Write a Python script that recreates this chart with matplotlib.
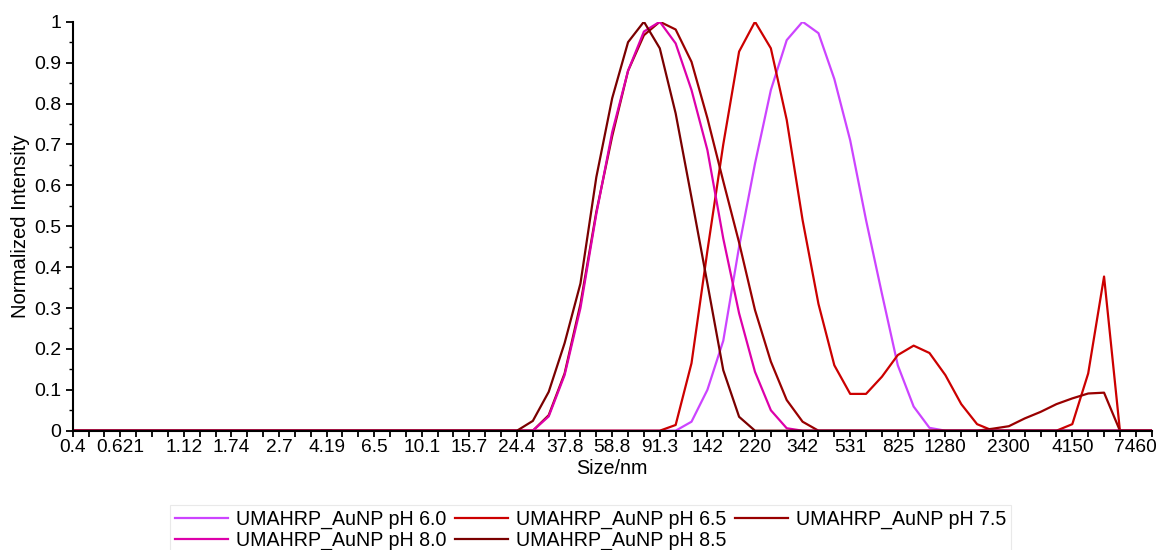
import matplotlib
matplotlib.use("Agg")
import matplotlib.pyplot as plt
from matplotlib.ticker import FixedLocator, NullFormatter, MultipleLocator

plt.rcParams['font.family'] = ['Liberation Sans', 'DejaVu Sans']

# DLS size bins (nm)
sizes = [0.4, 0.4632, 0.5365, 0.6213, 0.7195, 0.8332, 0.9649, 1.117, 1.294, 1.499,
         1.736, 2.010, 2.328, 2.696, 3.122, 3.615, 4.187, 4.849, 5.615, 6.503,
         7.531, 8.721, 10.10, 11.70, 13.54, 15.69, 18.17, 21.04, 24.36, 28.21,
         32.67, 37.84, 43.82, 50.75, 58.77, 68.06, 78.82, 91.28, 105.7, 122.4,
         141.8, 164.2, 190.1, 220.2, 255.0, 295.3, 342.0, 396.1, 458.7, 531.2,
         615.1, 712.4, 825.0, 955.4, 1106, 1281, 1484, 1718, 1990, 2305,
         2669, 3091, 3580, 4145, 4801, 5560, 6439, 7456, 8635, 10000]

# normalized intensities, one value per bin
ph60 = [0]*38 + [0, 0.022, 0.10, 0.22, 0.45, 0.653, 0.833, 0.955, 1.0, 0.972,
                 0.86, 0.71, 0.515, 0.335, 0.16, 0.059, 0.007] + [0]*15
ph65 = [0]*37 + [0, 0.014, 0.165, 0.44, 0.70, 0.927, 1.0, 0.935, 0.76, 0.515,
                 0.31, 0.16, 0.09, 0.09, 0.132, 0.185, 0.208, 0.19, 0.136, 0.065,
                 0.016, 0, 0, 0, 0, 0, 0.016, 0.14, 0.377, 0] + [0]*3
ph75 = [0]*29 + [0, 0.038, 0.14, 0.31, 0.535, 0.72, 0.88, 0.967, 1.0, 0.981,
                 0.902, 0.764, 0.61, 0.46, 0.295, 0.169, 0.075, 0.022, 0, 0,
                 0, 0, 0, 0, 0, 0, 0, 0, 0, 0.005, 0.011, 0.03, 0.046, 0.065,
                 0.079, 0.091, 0.093, 0] + [0]*3
ph80 = [0]*29 + [0, 0.035, 0.136, 0.30, 0.53, 0.73, 0.88, 0.976, 1.0, 0.947,
                 0.833, 0.686, 0.47, 0.287, 0.144, 0.05, 0.006] + [0]*24
ph85 = [0]*28 + [0, 0.024, 0.095, 0.214, 0.36, 0.62, 0.813, 0.95, 1.0, 0.935,
                 0.776, 0.57, 0.36, 0.148, 0.034] + [0]*27

names = ["UMAHRP_AuNP pH 6.0", "UMAHRP_AuNP pH 6.5", "UMAHRP_AuNP pH 7.5",
         "UMAHRP_AuNP pH 8.0", "UMAHRP_AuNP pH 8.5"]
colors = ["#CC44FF", "#CC0000", "#990000", "#DD00AA", "#7A0000"]

label_bins = [0, 3, 7, 10, 13, 16, 19, 22, 25, 28, 31, 34, 37, 40, 43, 46, 49, 52, 55, 59, 63, 67]
label_text = ["0.4", "0.621", "1.12", "1.74", "2.7", "4.19", "6.5", "10.1", "15.7", "24.4",
              "37.8", "58.8", "91.3", "142", "220", "342", "531", "825", "1280", "2300",
              "4150", "7460"]

fig = plt.figure(figsize=(11.6, 5.5), dpi=100)
ax = fig.add_axes([0.0627, 0.2169, 0.9301, 0.7436])

lines = []
for ys, name, c in zip([ph60, ph65, ph75, ph80, ph85], names, colors):
    ln, = ax.plot(sizes, ys, color=c, lw=1.6, label=name)
    lines.append(ln)

ax.set_xscale('log')
ax.set_xlim(0.4, 8635)
ax.set_ylim(0, 1)

ax.xaxis.set_major_locator(FixedLocator([sizes[i] for i in label_bins]))
ax.set_xticklabels(label_text)
ax.xaxis.set_minor_locator(FixedLocator(sizes[:69]))
ax.xaxis.set_minor_formatter(NullFormatter())
ax.tick_params(axis='x', which='both', length=4, width=1.3, direction='out', labelsize=13.8, pad=2)

ax.set_yticks([i / 10 for i in range(11)])
ax.set_yticklabels(["0"] + ["%.1f" % (i / 10) for i in range(1, 10)] + ["1"])
ax.yaxis.set_minor_locator(MultipleLocator(0.05))
ax.tick_params(axis='y', which='major', length=5, width=1.3, labelsize=14, pad=3)
ax.tick_params(axis='y', which='minor', length=3, width=1.0)

for s in ['top', 'right']:
    ax.spines[s].set_visible(False)
for s in ['left', 'bottom']:
    ax.spines[s].set_linewidth(1.5)

ax.set_xlabel("Size/nm", fontsize=14.2, labelpad=2)
ax.set_ylabel("Normalized Intensity", fontsize=14.6, labelpad=3)

order = [0, 3, 1, 4, 2]
leg = fig.legend([lines[i] for i in order], [names[i] for i in order], ncol=3,
                 loc='upper left', bbox_to_anchor=(170 / 1160, 1 - 505 / 550),
                 fontsize=14.1, frameon=True, fancybox=False, handlelength=2.7,
                 handletextpad=0.4, columnspacing=0.46, labelspacing=0.1,
                 borderpad=0.25, borderaxespad=0)
leg.get_frame().set_edgecolor('#E4E4E4')
leg.get_frame().set_linewidth(0.8)

fig.savefig("out.png", dpi=100)
